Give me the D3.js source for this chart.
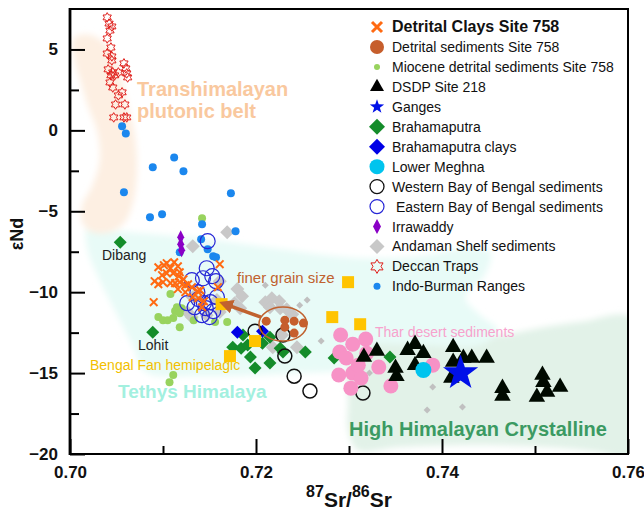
<!DOCTYPE html>
<html>
<head>
<meta charset="utf-8">
<script src="https://cdn.jsdelivr.net/npm/d3@7"></script>
<style>
  body { margin: 0; background: #fff; }
  svg { font-family: "Liberation Sans", Arial, sans-serif; }
</style>
</head>
<body>
<div id="chart"></div>
<script>
// values are [87Sr/86Sr, eNd]
var detritalClays = [[0.7095,-8.46],[0.7101,-8.33],[0.7108,-8.52],[0.7104,-8.21],[0.7112,-8.15],[0.7116,-8.40],[0.7118,-8.77],
  [0.7099,-8.95],[0.7104,-8.83],[0.7111,-8.83],[0.7117,-9.01],[0.7122,-9.20],[0.7091,-9.32],[0.7095,-9.51],[0.7100,-9.38],
  [0.7108,-9.44],[0.7113,-9.44],[0.7118,-9.38],[0.7124,-9.57],[0.7127,-9.51],[0.7116,-9.81],[0.7124,-10.0],[0.7131,-9.69],
  [0.7137,-9.94],[0.7140,-9.88],[0.7132,-10.31],[0.7138,-10.37],[0.7144,-10.56],[0.7142,-10.93],[0.7090,-10.62],
  [0.7161,-8.27],[0.7159,-9.69]];
var detritalSediments = [[0.7211,-11.79],[0.7231,-11.73],[0.7241,-11.79],[0.7251,-11.91],[0.7231,-12.16],[0.7241,-12.53]];
var mioceneSediments = [[0.7142,-5.43],[0.7108,-10.12],[0.7115,-10.93],[0.7120,-10.99],[0.7113,-11.17],[0.7118,-11.30],
  [0.7095,-11.54],[0.7100,-11.73],[0.7105,-11.73],[0.7111,-11.60],[0.7118,-12.16],[0.7133,-11.73],[0.7156,-11.85],
  [0.7169,-11.85],[0.7111,-15.12],[0.7107,-15.56]];
var dsdp218 = [[0.7316,-14.01],[0.7330,-13.64],[0.7350,-14.69],[0.7351,-15.19],[0.7363,-13.58],[0.7371,-13.21],[0.7380,-13.77],
  [0.7371,-14.51],[0.7412,-13.40],[0.7412,-14.32],[0.7423,-14.07],[0.7432,-14.07],[0.7448,-14.07],[0.7410,-15.31],
  [0.7465,-15.93],[0.7465,-16.42],[0.7508,-15.12],[0.7509,-15.56],[0.7513,-16.17],[0.7527,-15.86],[0.7502,-16.48]];
var ganges = [[0.7420,-15.00]];
var brahmaputra = [[0.7054,-6.91],[0.7089,-12.47],[0.7186,-12.65],[0.7175,-13.40],[0.7184,-13.46],[0.7194,-14.01],
  [0.7199,-14.69],[0.7215,-14.38],[0.7226,-13.46],[0.7215,-12.78],[0.7207,-13.15],[0.7229,-13.70],[0.7253,-13.70],
  [0.7284,-14.07],[0.7344,-14.01],[0.7191,-13.27]];
var brahmaputraClays = [[0.7180,-12.47],[0.7207,-12.41]];
var lowerMeghna = [[0.7380,-14.81]];
var westernBoB = [[0.7199,-12.41],[0.7229,-12.65],[0.7231,-13.95],[0.7241,-15.19],[0.7258,-16.11],[0.7315,-16.23]];
var easternBoB = [[0.7148,-6.85],[0.7147,-8.52],[0.7153,-9.01],[0.7143,-9.14],[0.7157,-9.32],[0.7131,-9.26],[0.7137,-10.0],
  [0.7126,-10.68],[0.7138,-10.43],[0.7144,-10.68],[0.7151,-10.62],[0.7158,-10.31],[0.7146,-10.99],[0.7142,-11.42],
  [0.7150,-11.54],[0.7154,-11.17],[0.7134,-10.93]];
var irrawaddy = [[0.7119,-6.60],[0.7119,-7.04],[0.7120,-7.41]];
var andamanLarge = [[0.7169,-6.30],[0.7132,-7.16],[0.7161,-9.32],[0.7180,-9.81],[0.7185,-10.25],[0.7177,-10.68],[0.7132,-10.31],
  [0.7126,-11.23],[0.7131,-11.54],[0.7147,-11.42],[0.7161,-11.23],[0.7183,-10.99],[0.7210,-10.62],[0.7217,-10.37],
  [0.7225,-10.56],[0.7215,-10.93],[0.7226,-10.99],[0.7233,-11.05],[0.7239,-11.36],[0.7228,-12.65],[0.7218,-13.40],
  [0.7244,-13.40],[0.7158,-10.49]];
var andamanSmall = [[0.7210,-9.57],[0.7247,-10.80],[0.7270,-13.02],[0.7322,-15.00],[0.7390,-15.86],[0.7384,-17.28],
  [0.7422,-17.10],[0.7255,-10.49]];
var deccanTraps = [[0.7040,6.98],[0.7042,6.60],[0.7045,6.42],[0.7043,6.17],[0.7040,5.68],[0.7044,5.12],[0.7040,4.75],
  [0.7045,4.57],[0.7045,4.32],[0.7058,4.14],[0.7060,3.83],[0.7041,3.77],[0.7046,3.58],[0.7052,3.58],[0.7044,3.40],
  [0.7048,3.40],[0.7061,3.52],[0.7062,3.27],[0.7043,2.96],[0.7046,2.65],[0.7056,2.35],[0.7052,2.16],[0.7049,1.60],
  [0.7059,1.60],[0.7047,0.80],[0.7058,0.80],[0.7061,0.80]];
var indoBurman = [[0.7056,0.25],[0.7060,-0.19],[0.7089,-2.28],[0.7112,-1.67],[0.7122,-2.53],[0.7058,-3.83],[0.7173,-3.89],
  [0.7086,-5.37],[0.7099,-5.19],[0.7142,-5.80],[0.7178,-6.23],[0.7141,-6.73],[0.7118,-7.53],[0.7148,-7.35],
  [0.7154,-7.78],[0.7157,-7.84]];
var tharDesert = [[0.7291,-12.65],[0.7304,-13.21],[0.7318,-12.90],[0.7319,-13.77],[0.7290,-13.70],[0.7297,-14.07],
  [0.7289,-15.12],[0.7304,-15.00],[0.7313,-15.31],[0.7302,-15.93],[0.7332,-14.63],[0.7345,-15.80],[0.7390,-14.51],
  [0.7310,-14.51]];
var bengalFan = [[0.7163,-10.74],[0.7199,-13.02],[0.7172,-13.95],[0.7282,-11.54],[0.7312,-11.98],[0.7299,-9.38]];

// source fields (outlines)
var transhimalaya = [[0.7004,5.68],[0.7019,5.93],[0.7034,5.56],[0.7048,4.63],[0.7056,3.09],[0.7062,1.54],[0.7069,0],
  [0.7072,-1.85],[0.7071,-3.40],[0.7067,-4.63],[0.7059,-5.68],[0.7043,-6.30],[0.7024,-6.30],[0.7013,-5.68],
  [0.7013,-4.63],[0.7024,-3.40],[0.7032,-1.85],[0.7029,0],[0.7019,1.54],[0.7011,3.09],[0.7005,4.32]];
var tethys = [[0.7019,-6.05],[0.7065,-6.30],[0.7140,-6.67],[0.7212,-7.22],[0.7312,-7.90],[0.7376,-7.78],[0.7425,-7.28],
  [0.7452,-7.53],[0.7446,-8.95],[0.7425,-10.31],[0.7441,-11.42],[0.7460,-12.35],[0.7441,-13.27],[0.7376,-13.27],
  [0.7323,-13.27],[0.7299,-13.89],[0.7294,-14.69],[0.7247,-15.00],[0.7140,-15.19],[0.7081,-14.94],[0.7067,-13.27],
  [0.7048,-11.11],[0.7032,-9.26],[0.7019,-7.41]];
var highHimalaya = [[0.7301,-13.27],[0.7317,-12.47],[0.7355,-12.22],[0.7409,-12.35],[0.7462,-12.65],[0.7505,-12.22],
  [0.7548,-11.85],[0.7605,-11.60],[0.7605,-20.2],[0.7570,-19.9],[0.7527,-19.63],[0.7441,-19.44],[0.7355,-19.57],
  [0.7309,-19.75],[0.7299,-18.52],[0.7299,-16.67],[0.7297,-14.81]];

// grain-size annotation
var grainEllipse = { cx: 0.7229, cy: -11.97, rx: 0.00258, ry: 1.05 };
var grainArrow = [[0.72054,-11.54],[0.71660,-10.72]];

var xMajor = [0.70, 0.72, 0.74, 0.76], xMinor = [0.71, 0.73, 0.75];
var yMajor = [5, 0, -5, -10, -15, -20], yMinor = [2.5, -2.5, -7.5, -12.5, -17.5];

var legendLabels = ["Detrital Clays Site 758", "Detrital sediments Site 758", "Miocene detrital sediments Site 758",
  "DSDP Site 218", "Ganges", "Brahamaputra", "Brahamaputra clays", "Lower Meghna", "Western Bay of Bengal sediments",
  " Eastern Bay of Bengal sediments", "Irrawaddy", "Andaman Shelf sediments", "Deccan Traps", "Indo-Burman Ranges"];

var plotL = 70, plotR = 628, plotT = 9, plotB = 454;
var x = d3.scaleLinear().domain([0.70, 0.76]).range([plotL, plotR]);
var y = d3.scaleLinear().domain([-20, 7.5]).range([plotB, plotT]);

var svg = d3.select("#chart").append("svg").attr("width", 644).attr("height", 512);
var defs = svg.append("defs");
defs.append("filter").attr("id", "soft").attr("x", "-30%").attr("y", "-30%").attr("width", "160%").attr("height", "160%")
  .append("feGaussianBlur").attr("stdDeviation", 3);
defs.append("clipPath").attr("id", "plotclip").append("rect")
  .attr("x", plotL).attr("y", plotT).attr("width", plotR - plotL).attr("height", plotB - plotT);
defs.append("marker").attr("id", "arrowhead").attr("viewBox", "0 0 10 10").attr("refX", 6).attr("refY", 5)
  .attr("markerWidth", 4).attr("markerHeight", 4).attr("orient", "auto")
  .append("path").attr("d", "M0,0L10,5L0,10Z").attr("fill", "#c0622f");

// shape helpers
function starPath(n, R, r) {
  var p = [];
  for (var i = 0; i < 2 * n; i++) {
    var a = Math.PI * i / n - Math.PI / 2, rr = i % 2 ? r : R;
    p.push([rr * Math.cos(a), rr * Math.sin(a)]);
  }
  return "M" + p.join("L") + "Z";
}
function diamondPath(h, w) { return "M0," + (-h) + "L" + w + ",0L0," + h + "L" + (-w) + ",0Z"; }
function trianglePath(s) { var h = s * 0.866; return "M0," + (-2 * h / 3) + "L" + (s / 2) + "," + (h / 3) + "L" + (-s / 2) + "," + (h / 3) + "Z"; }
function crossPath(r) { return "M" + (-r) + "," + (-r) + "L" + r + "," + r + "M" + (-r) + "," + r + "L" + r + "," + (-r); }
function circlePath(r) { return "M" + r + ",0A" + r + "," + r + " 0 1,1 " + (-r) + ",0A" + r + "," + r + " 0 1,1 " + r + ",0Z"; }
function squarePath(s) { return "M" + (-s / 2) + "," + (-s / 2) + "h" + s + "v" + s + "h" + (-s) + "Z"; }

// background fields
var area = d3.line().x(function(d) { return x(d[0]); }).y(function(d) { return y(d[1]); }).curve(d3.curveCatmullRomClosed);
var bg = svg.append("g").attr("clip-path", "url(#plotclip)");
bg.append("path").datum(highHimalaya).attr("d", area).attr("fill", "#e2f2e8").attr("filter", "url(#soft)");
bg.append("path").datum(tethys).attr("d", area).attr("fill", "#e8fbf7").attr("filter", "url(#soft)");
bg.append("path").datum(transhimalaya).attr("d", area).attr("fill", "#fdefe2").attr("filter", "url(#soft)");

// field labels
function label(tx, ty, str, size, color, weight) {
  return svg.append("text").attr("x", tx).attr("y", ty).attr("font-size", size).attr("fill", color)
    .attr("font-weight", weight || "normal").text(str);
}
label(137, 96, "Transhimalayan", 20, "#f9c89e", "bold");
label(137, 118, "plutonic belt", 20, "#f9c89e", "bold");
label(118, 398, "Tethys Himalaya", 19, "#a3f0df", "bold");
label(349, 436, "High Himalayan Crystalline", 20, "#3b9a62", "bold");
label(375, 337, "Thar desert sediments", 14, "#f7a2cd");
label(237, 283, "finer grain size", 15, "#c0622f");
label(90, 370, "Bengal Fan hemipelagic", 14, "#f2bf00");
label(102, 260, "Dibang", 14, "#222");
label(138, 350, "Lohit", 14, "#222");

// axes
var gx = svg.append("g").attr("transform", "translate(0," + plotB + ")");
gx.call(d3.axisBottom(x).tickValues(xMajor).tickSize(-15).tickPadding(12).tickFormat(d3.format(".2f")));
var gx2 = svg.append("g").attr("transform", "translate(0," + plotB + ")");
gx2.call(d3.axisBottom(x).tickValues(xMinor).tickSize(-8).tickFormat(""));
var gy = svg.append("g").attr("transform", "translate(" + plotL + ",0)");
gy.call(d3.axisLeft(y).tickValues(yMajor).tickSize(-15).tickPadding(12).tickFormat(d3.format("d")));
var gy2 = svg.append("g").attr("transform", "translate(" + plotL + ",0)");
gy2.call(d3.axisLeft(y).tickValues(yMinor).tickSize(-9).tickFormat(""));
svg.selectAll(".domain").remove();
svg.selectAll(".tick line").attr("stroke", "#000").attr("stroke-width", 2);
svg.selectAll(".tick text").attr("font-size", 17).attr("font-weight", "bold").attr("fill", "#111")
  .attr("font-family", "Liberation Sans, Arial, sans-serif");

// points
var marks = svg.append("g").attr("clip-path", "url(#plotclip)");
function series(data, d, fill, stroke, sw) {
  marks.append("g").selectAll("path").data(data).join("path")
    .attr("transform", function(p) { return "translate(" + x(p[0]) + "," + y(p[1]) + ")"; })
    .attr("d", d).attr("fill", fill).attr("stroke", stroke || "none").attr("stroke-width", sw || 0);
}
series(andamanLarge, diamondPath(7, 7), "#c8c8c8");
series(andamanSmall, diamondPath(3.5, 3.5), "#c0c0c0");
series(mioceneSediments, circlePath(4), "#98d35e");
series(indoBurman, circlePath(4), "#1b87ee");
series(deccanTraps, starPath(6, 4.8, 2.8), "none", "#e0201c", 1);
series(irrawaddy, diamondPath(7, 3.5), "#8a00c6");
series(easternBoB, circlePath(7.5), "none", "#2626d6", 1.2);
series(detritalClays, crossPath(3.8), "none", "#ff6a12", 2);
series(brahmaputra, diamondPath(6.5, 6.5), "#148c2a");
series(brahmaputraClays, diamondPath(6.5, 6.5), "#0000e6");
series(westernBoB, circlePath(7), "none", "#111", 1.5);
series(tharDesert, circlePath(7.5), "#f792c6");
series(dsdp218, trianglePath(16.5), "#000a00");
series(lowerMeghna, circlePath(8), "#00c4ee");
series(ganges, starPath(5, 18.5, 7.3), "#0010e8");
series(bengalFan, squarePath(12), "#ffc400");
series(detritalSediments, circlePath(4.5), "#c65e2c");

// grain size ellipse and arrow
svg.append("ellipse").attr("cx", x(grainEllipse.cx)).attr("cy", y(grainEllipse.cy))
  .attr("rx", x(grainEllipse.cx + grainEllipse.rx) - x(grainEllipse.cx))
  .attr("ry", y(grainEllipse.cy - grainEllipse.ry) - y(grainEllipse.cy))
  .attr("fill", "none").attr("stroke", "#c0622f").attr("stroke-width", 1.5);
svg.append("path").datum(grainArrow).attr("d", d3.line().x(function(d) { return x(d[0]); }).y(function(d) { return y(d[1]); }))
  .attr("stroke", "#c0622f").attr("stroke-width", 3.5).attr("fill", "none").attr("marker-end", "url(#arrowhead)");

// frame
svg.append("rect").attr("x", plotL).attr("y", plotT).attr("width", plotR - plotL).attr("height", plotB - plotT)
  .attr("fill", "none").attr("stroke", "#000").attr("stroke-width", 2);
svg.append("line").attr("x1", plotL).attr("x2", plotL).attr("y1", plotT - 1).attr("y2", plotB + 1)
  .attr("stroke", "#000").attr("stroke-width", 2.8);

// legend
var legendMarks = [
  { d: crossPath(5), fill: "none", stroke: "#ff6a12", sw: 3 },
  { d: circlePath(7), fill: "#c65e2c" },
  { d: circlePath(3), fill: "#98d35e" },
  { d: trianglePath(14), fill: "#000" },
  { d: starPath(5, 7.5, 3), fill: "#0010e8" },
  { d: diamondPath(8, 8), fill: "#148c2a" },
  { d: diamondPath(8, 8), fill: "#0000e6" },
  { d: circlePath(7.5), fill: "#00c4ee" },
  { d: circlePath(7), fill: "none", stroke: "#111", sw: 1.3 },
  { d: circlePath(7), fill: "none", stroke: "#2626d6", sw: 1.2 },
  { d: diamondPath(7.5, 4), fill: "#8a00c6" },
  { d: diamondPath(7.5, 7.5), fill: "#c8c8c8" },
  { d: starPath(6, 7, 4), fill: "none", stroke: "#e0201c", sw: 1 },
  { d: circlePath(3.5), fill: "#1b87ee" }
];
var legend = svg.append("g");
legendLabels.forEach(function(t, i) {
  var cy = 27 + i * 19.95, m = legendMarks[i];
  legend.append("path").attr("transform", "translate(377," + cy + ")").attr("d", m.d)
    .attr("fill", m.fill).attr("stroke", m.stroke || "none").attr("stroke-width", m.sw || 0);
  legend.append("text").attr("x", 392).attr("y", cy + 5).attr("font-size", i === 0 ? 16 : 14)
    .attr("font-weight", i === 0 ? "bold" : "normal").attr("fill", "#111")
    .style("white-space", "pre").text(t);
});

// axis titles
var xt = svg.append("text").attr("x", 349).attr("y", 507).attr("text-anchor", "middle")
  .attr("font-weight", "bold").attr("fill", "#111");
xt.append("tspan").attr("font-size", 16).attr("dy", -10).text("87");
xt.append("tspan").attr("font-size", 21).attr("dy", 10).text("Sr/");
xt.append("tspan").attr("font-size", 16).attr("dy", -10).text("86");
xt.append("tspan").attr("font-size", 21).attr("dy", 10).text("Sr");

svg.append("text").attr("transform", "translate(23,234) rotate(-90)").attr("text-anchor", "middle")
  .attr("font-size", 18).attr("font-weight", "bold").attr("fill", "#111").text("εNd");
</script>
</body>
</html>
